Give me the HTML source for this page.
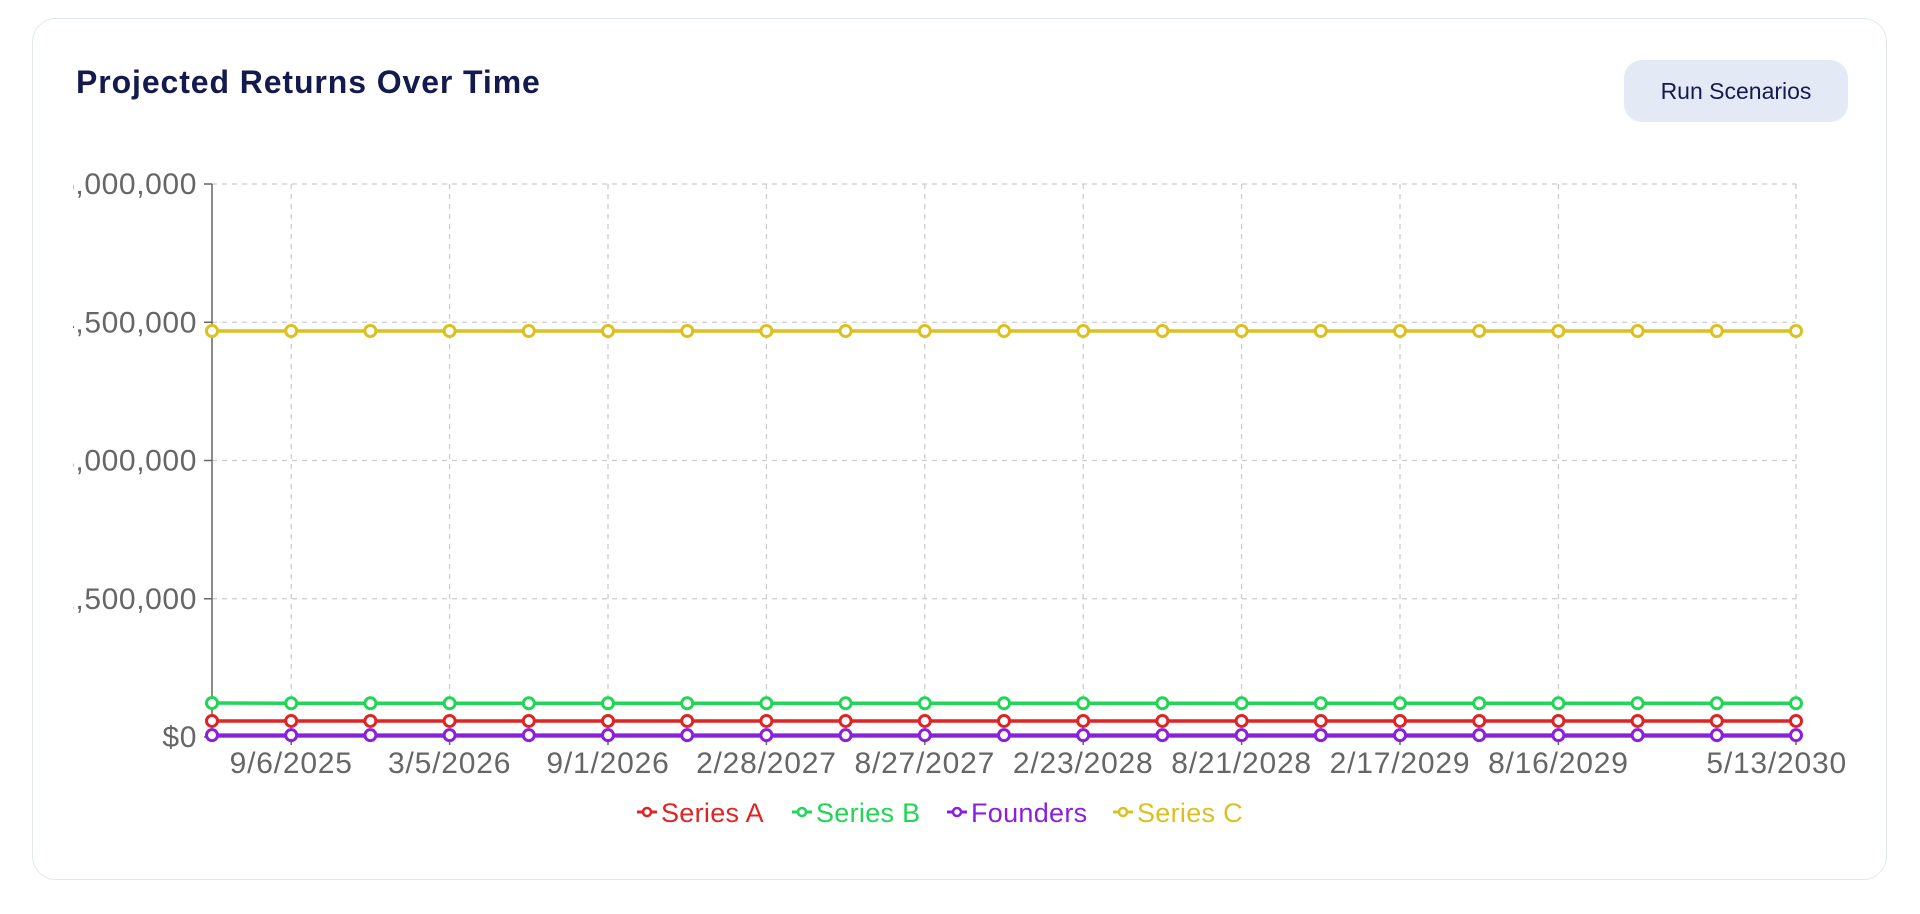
<!DOCTYPE html>
<html><head><meta charset="utf-8"><style>
html,body{margin:0;padding:0;background:#fff;width:1920px;height:914px;overflow:hidden;font-family:"Liberation Sans",sans-serif;}
.card{position:absolute;left:32px;top:18px;width:1855px;height:862px;border:1.5px solid #e2e8f2;border-radius:24px;box-sizing:border-box;background:#fff;}
.title{position:absolute;left:76px;top:64px;font-size:32px;letter-spacing:0.9px;font-weight:bold;color:#141a4d;margin:0;}
.btn{position:absolute;left:1624px;top:60px;width:224px;height:62px;border-radius:18px;background:#e4eaf5;border:none;color:#141a4d;font-size:23px;font-family:"Liberation Sans",sans-serif;}
svg{position:absolute;left:0;top:0;}
</style></head><body>
<div class="card"></div>
<h1 class="title">Projected Returns Over Time</h1>
<button class="btn">Run Scenarios</button>
<svg id="chart" width="1920" height="914">
<defs><clipPath id="clip"><rect x="73" y="0" width="1800" height="914"/></clipPath></defs>
<g id="plot" clip-path="url(#clip)"></g>
</svg>
<script>
const dates=["6/8/2025","9/6/2025","12/5/2025","3/5/2026","6/3/2026","9/1/2026","11/30/2026","2/28/2027","5/29/2027","8/27/2027","11/25/2027","2/23/2028","5/23/2028","8/21/2028","11/19/2028","2/17/2029","5/18/2029","8/16/2029","11/14/2029","2/12/2030","5/13/2030"];
const shownDates=["9/6/2025","3/5/2026","9/1/2026","2/28/2027","8/27/2027","2/23/2028","8/21/2028","2/17/2029","8/16/2029","5/13/2030"];
const seriesA=[174000,174000,174000,174000,174000,174000,174000,174000,174000,174000,174000,174000,174000,174000,174000,174000,174000,174000,174000,174000,174000];
const seriesB=[369000,366000,366000,366000,366000,366000,366000,366000,366000,366000,366000,366000,366000,366000,366000,366000,366000,366000,366000,366000,366000];
const founders=[20000,20000,20000,20000,20000,20000,20000,20000,20000,20000,20000,20000,20000,20000,20000,20000,20000,20000,20000,20000,20000];
const seriesC=[4405000,4405000,4405000,4405000,4405000,4405000,4405000,4405000,4405000,4405000,4405000,4405000,4405000,4405000,4405000,4405000,4405000,4405000,4405000,4405000,4405000];
const yTicks=[0,1500000,3000000,4500000,6000000];
const seriesNames=["Series A","Series B","Founders","Series C"];
const seriesColors=["#e02424","#1fd655","#8b1fe0","#dcc020"];
const NS="http://www.w3.org/2000/svg";
const g=document.getElementById('plot');
const svg=document.getElementById('chart');
const X0=212,X1=1796,Y0=737,Y1=184,YMAX=6000000;
const x=i=>X0+(X1-X0)*i/(dates.length-1);
const y=v=>Y0-(Y0-Y1)*v/YMAX;
function mk(tag,attrs,parent){const e=document.createElementNS(NS,tag);for(const k in attrs)e.setAttribute(k,attrs[k]);(parent||g).appendChild(e);return e;}
const fmt=v=>"$"+v.toLocaleString("en-US");
yTicks.forEach(v=>{
  const l=mk('line',{x1:X0,x2:X1,y1:y(v),y2:y(v),stroke:'#ccc','stroke-dasharray':'5 5','stroke-width':1.3});
  
  
  mk('line',{x1:X0-8,x2:X0,y1:y(v),y2:y(v),stroke:'#666','stroke-width':1.5});
  const t=mk('text',{x:X0-15,y:y(v)+10,'text-anchor':'end','font-size':30,'letter-spacing':'0.6',fill:'#666'});
  t.textContent=fmt(v);
  
  
});
dates.forEach((d,i)=>{
  if(!shownDates.includes(d))return;
  const l=mk('line',{x1:x(i),x2:x(i),y1:Y1,y2:Y0,stroke:'#ccc','stroke-dasharray':'5 5','stroke-width':1.3});
  
  
  mk('line',{x1:x(i),x2:x(i),y1:Y0,y2:Y0+8,stroke:'#666','stroke-width':1.5});
  const anchorEnd=i===dates.length-1;
  const t=mk('text',{x:anchorEnd?x(i)+51:x(i),y:773,'text-anchor':anchorEnd?'end':'middle','font-size':30,'letter-spacing':'0.8',fill:'#666'});
  t.textContent=d;
  
  
});
mk('line',{x1:X0,x2:X0,y1:Y1,y2:Y0,stroke:'#666','stroke-width':1.5});
mk('line',{x1:X0,x2:X1,y1:Y0,y2:Y0,stroke:'#666','stroke-width':1.5});
[seriesC,seriesB,seriesA,founders].forEach(arr=>{
  const si=[seriesA,seriesB,founders,seriesC].indexOf(arr);
  const c=seriesColors[si];
  const p=mk('polyline',{points:arr.map((v,i)=>x(i)+','+y(v)).join(' '),fill:'none',stroke:c,'stroke-width':3.5});
  
  
  arr.forEach((v,i)=>{
    const m=mk('circle',{cx:x(i),cy:y(v),r:5.5,fill:'#fff',stroke:c,'stroke-width':3});
    
    
  });
});
// legend
const lxs=[637,792,947,1113];
seriesNames.forEach((n,i)=>{
  const c=seriesColors[i];
  const lx=lxs[i];
  const grp=mk('g',{},svg);
  
  
  mk('line',{x1:lx,x2:lx+20,y1:812,y2:812,stroke:c,'stroke-width':3},grp);
  mk('circle',{cx:lx+10,cy:812,r:4,fill:'#fff',stroke:c,'stroke-width':2.5},grp);
  const t=mk('text',{x:lx+24,y:822,'font-size':27,'letter-spacing':'0.3',fill:c},grp);
  t.textContent=n;
});
</script>
</body></html>
